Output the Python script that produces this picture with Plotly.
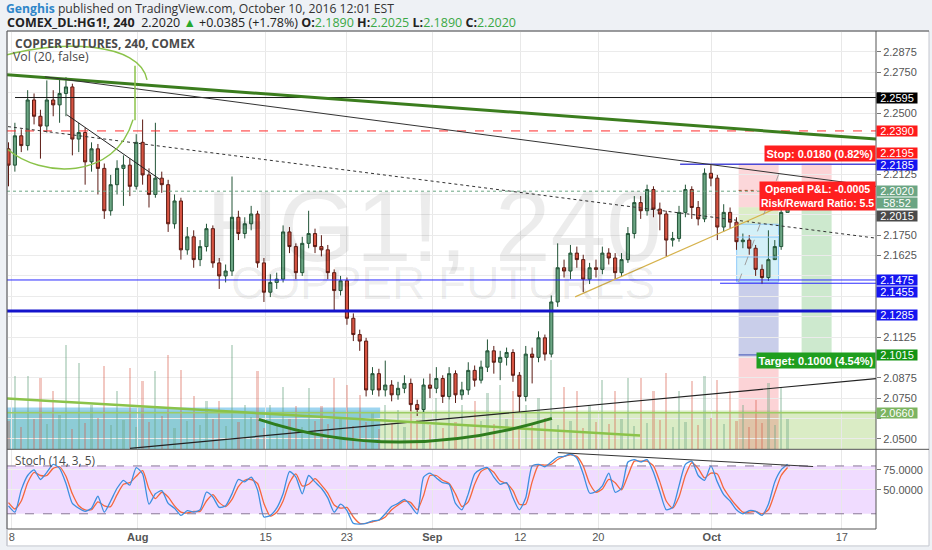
import plotly.graph_objects as go

# ---------------- data (240-min bars, 2 bars per day) ----------------
close = [2.218,2.236,2.230,2.258,2.248,2.242,2.258,2.255,2.262,2.266,
         2.234,2.238,2.220,2.228,2.216,2.190,2.206,2.216,2.218,2.205,
         2.232,2.212,2.200,2.210,2.206,2.182,2.196,2.166,2.174,2.160,
         2.168,2.179,2.158,2.150,2.153,2.186,2.176,2.182,2.188,2.158,
         2.140,2.146,2.148,2.177,2.168,2.152,2.170,2.176,2.168,2.166,
         2.152,2.141,2.147,2.124,2.114,2.110,2.080,2.090,2.080,2.083,
         2.077,2.081,2.084,2.071,2.068,2.083,2.081,2.087,2.076,2.090,
         2.077,2.080,2.092,2.086,2.094,2.104,2.097,2.100,2.103,2.089,
         2.076,2.102,2.100,2.112,2.102,2.134,2.155,2.153,2.164,2.160,
         2.148,2.155,2.154,2.164,2.161,2.152,2.160,2.176,2.195,2.190,
         2.203,2.191,2.188,2.172,2.173,2.189,2.203,2.192,2.185,2.213,
         2.210,2.180,2.189,2.183,2.171,2.172,2.167,2.154,2.149,2.160,
         2.168,2.189,2.202]
high = [2.232,2.244,2.240,2.264,2.262,2.252,2.270,2.264,2.271,2.272,
        2.268,2.244,2.241,2.232,2.231,2.219,2.212,2.221,2.224,2.222,
        2.237,2.246,2.216,2.244,2.214,2.209,2.200,2.198,2.180,2.178,
        2.172,2.182,2.181,2.161,2.157,2.211,2.190,2.186,2.193,2.190,
        2.161,2.151,2.152,2.181,2.180,2.170,2.174,2.190,2.179,2.175,
        2.169,2.154,2.150,2.149,2.127,2.117,2.112,2.094,2.093,2.098,
        2.086,2.085,2.089,2.087,2.074,2.087,2.090,2.094,2.089,2.094,
        2.092,2.085,2.097,2.095,2.098,2.111,2.107,2.104,2.106,2.105,
        2.091,2.107,2.106,2.116,2.114,2.138,2.170,2.160,2.169,2.168,
        2.163,2.158,2.160,2.168,2.167,2.164,2.164,2.180,2.199,2.199,
        2.206,2.205,2.195,2.190,2.177,2.193,2.206,2.205,2.196,2.216,
        2.218,2.212,2.194,2.192,2.186,2.176,2.175,2.169,2.157,2.178,
        2.172,2.192,2.2025]
low = [2.205,2.214,2.226,2.227,2.243,2.222,2.238,2.248,2.244,2.248,
       2.224,2.226,2.206,2.214,2.200,2.185,2.187,2.200,2.193,2.199,
       2.203,2.206,2.192,2.198,2.201,2.177,2.179,2.160,2.163,2.155,
       2.156,2.165,2.155,2.142,2.146,2.150,2.172,2.173,2.178,2.155,
       2.134,2.137,2.142,2.146,2.164,2.148,2.150,2.167,2.164,2.162,
       2.148,2.129,2.138,2.120,2.110,2.104,2.076,2.077,2.076,2.076,
       2.073,2.074,2.078,2.067,2.064,2.066,2.075,2.078,2.072,2.074,
       2.072,2.074,2.077,2.082,2.084,2.091,2.090,2.086,2.095,2.085,
       2.066,2.073,2.084,2.097,2.098,2.100,2.131,2.149,2.148,2.155,
       2.140,2.145,2.149,2.151,2.157,2.148,2.150,2.158,2.173,2.185,
       2.187,2.186,2.178,2.162,2.168,2.171,2.186,2.185,2.181,2.183,
       2.205,2.172,2.177,2.179,2.166,2.167,2.163,2.150,2.145,2.147,
       2.163,2.166,2.189]
first_open = 2.228
volume = [28,74,22,74,30,72,25,59,34,105,
          20,87,26,45,31,84,24,59,29,82,
          22,69,27,79,33,95,21,80,28,54,
          24,49,30,49,23,105,27,45,32,79,
          21,45,26,63,30,43,22,62,28,43,
          25,72,31,65,23,55,27,37,20,45,
          26,39,22,45,29,49,24,52,21,50,
          27,45,23,49,28,57,25,65,30,59,
          22,45,26,52,31,90,24,63,28,59,
          21,43,27,70,25,59,30,72,23,72,
          26,59,29,77,22,59,27,69,24,74,
          31,70,25,59,28,45,22,50,26,67,
          24,63,30]
stoch_k = [30,22,50,68,75,63,72,82,77,58,
           33,27,23,27,42,22,36,52,62,56,
           78,70,32,45,49,33,27,18,24,22,
           25,47,41,28,30,45,63,60,66,50,
           16,18,27,45,73,66,45,68,60,52,
           40,22,32,24,8,7,8,11,12,20,
           29,33,38,30,20,66,71,65,59,57,
           33,25,45,70,76,78,66,57,59,40,
           25,40,80,82,79,85,91,92,95,90,
           70,46,48,55,71,47,52,85,88,85,
           88,72,48,25,28,55,82,86,68,62,
           80,60,44,36,25,20,24,23,18,32,
           60,75,82]
stoch_d = [34,26,36,59,72,68,68,77,79,67,
           45,30,25,25,35,30,29,44,57,59,
           67,74,51,39,47,41,30,22,21,23,
           23,36,44,34,29,38,54,62,63,58,
           33,17,22,36,59,70,55,57,64,56,
           46,31,27,28,16,8,8,10,12,16,
           25,31,36,34,25,43,68,68,62,58,
           45,29,35,57,73,77,72,61,58,49,
           32,32,60,81,81,82,88,92,94,92,
           80,58,47,51,63,59,50,68,86,86,
           86,80,60,36,27,41,68,84,77,65,
           71,70,52,40,30,22,22,23,20,25,
           46,68,78]

bar_x = list(range(len(close)))
open_ = [first_open] + close[:-1]

x_tick_vals = [0.5, 20.23, 40.28, 52.97, 66.37, 80.15, 92.37, 110.13, 130.5]
x_tick_text = ["8", "<b>Aug</b>", "15", "23", "<b>Sep</b>", "12", "20", "<b>Oct</b>", "17"]
price_tick_vals = [2.0500, 2.0625, 2.0750, 2.0875, 2.1000, 2.1125, 2.1250, 2.1375, 2.1500, 2.1625,
                   2.1750, 2.1875, 2.2000, 2.2125, 2.2250, 2.2375, 2.2500, 2.2625, 2.2750, 2.2875]
# ticks whose text is covered by the coloured price labels on the right axis
price_tick_text = ["2.0500", "", "2.0750", "2.0875", "", "2.1125", "", "", "", "2.1625",
                   "2.1750", "", "", "2.2125", "", "", "2.2500", "", "2.2750", "2.2875"]
stoch_tick_vals = [50, 75]
stoch_tick_text = ["50.0000", "75.0000"]

X_MIN, X_MAX = -0.236, 135.85
Y_MIN, Y_MAX = 2.04355, 2.30034

# horizontal levels: price, x start, x end, colour, width, dash
levels = [
    (2.2595, 1.02, X_MAX, "#1a1a1a", 1, "solid"),
    (2.2390, X_MIN, X_MAX, "#ff2a2a", 1, "dash"),
    (2.2185, 105.17, X_MAX, "#4b4bd8", 1.5, "solid"),
    (2.2020, X_MIN, X_MAX, "#6ba583", 1, "dot"),
    (2.1475, X_MIN, X_MAX, "#2a2aff", 1, "solid"),
    (2.1455, 111.43, X_MAX, "#2a2aff", 1, "solid"),
    (2.1285, X_MIN, X_MAX, "#1414cc", 3, "solid"),
    (2.0660, X_MIN, X_MAX, "#9ccc65", 1.5, "solid"),
    (2.1015, 114.34, 120.6, "#3f51b5", 1, "solid"),
    (2.1738, 114.03, 120.6, "#90caf9", 1, "solid"),
    (2.1616, 114.03, 120.6, "#90caf9", 1, "solid"),
    (2.2025, 114.34, 117.2, "#a0522d", 1, "dot"),
]
# trend lines: x0, p0, x1, p1, colour, width, dash
trendlines = [
    (X_MIN, 2.27344, X_MAX, 2.23400, "#3b7d1e", 3, "solid"),
    (5.715, 2.27222, X_MAX, 2.20496, "#333333", 1, "solid"),
    (-0.08, 2.24165, X_MAX, 2.17317, "#333333", 1, "dot"),
    (9.114, 2.24898, 23.726, 2.20924, "#222222", 1, "solid"),
    (19.03, 2.04417, X_MAX, 2.08696, "#222222", 1.2, "solid"),
    (X_MIN, 2.07474, 98.90, 2.05211, "#8bc34a", 2.5, "solid"),
    (88.73, 2.13710, 121.61, 2.19396, "#d6b24c", 1.2, "solid"),
    (114.34, 2.14627, 120.6, 2.21230, "#9e9e9e", 1, "dash"),
    (19.81, 2.24550, 19.81, 2.27900, "#8bc34a", 1.5, "solid"),
]
curves = [
    ("M -0.236,2.28567 C 8.06,2.29484 20.59,2.29361 21.69,2.27038", "#8bc34a", 1.5),
    ("M -0.08,2.22758 C 4.93,2.21046 16.68,2.20802 19.5,2.24593", "#8bc34a", 1.5),
    ("M 39.21,2.06190 Q 60.82,2.03377 85.10,2.06251", "#2e7d1e", 3),
]
# zones: x0, x1, p0, p1, fill, line
zones = [
    (X_MIN, X_MAX, Y_MIN, 2.06732, "rgba(139,195,74,0.32)", None),
    (X_MIN, 58.2, Y_MIN, 2.06916, "rgba(79,178,228,0.55)", None),
    (114.34, 120.6, 2.19212, 2.21902, "rgba(242,54,69,0.20)", None),
    (114.34, 120.6, 2.18173, 2.19212, "rgba(139,195,74,0.30)", None),
    (114.03, 120.6, 2.14627, 2.18173, "rgba(128,212,234,0.35)", "#90caf9"),
    (114.34, 120.6, 2.10041, 2.14627, "rgba(92,107,192,0.33)", None),
    (114.34, 120.6, Y_MIN, 2.10041, "rgba(242,54,69,0.22)", None),
    (124.2, 128.9, 2.20190, 2.21902, "rgba(242,54,69,0.22)", None),
    (124.2, 128.9, 2.10163, 2.20190, "rgba(76,175,80,0.28)", None),
]
# right-axis price labels: price, text, background, vertical shift (px)
axis_labels = [
    (2.2595, "2.2595", "#000000", 0),
    (2.2390, "2.2390", "#ff1a1a", 0),
    (2.2195, "2.2195", "#ff1a1a", 10),
    (2.2185, "2.2185", "#1515f0", -1),
    (2.2020, "2.2020", "#6ba583", 0),
    (2.2020, "58:52", "#6ba583", -12),
    (2.2015, "2.2015", "#4a4a4a", -24),
    (2.1475, "2.1475", "#1515f0", 0),
    (2.1455, "2.1455", "#1515f0", -9),
    (2.1285, "2.1285", "#1515f0", -4),
    (2.1015, "2.1015", "#149414", 0),
    (2.0660, "2.0660", "#7cb461", 0),
]

# ---------------- figure ----------------
W, H = 932, 550
ML, MR, MT, MB = 7, 56, 31, 19


def ppx(x):
    return (x - ML) / (W - ML - MR)


def ppy(y):
    return (H - MB - y) / (H - MT - MB)


fig = go.Figure()
vol_colors = ["rgba(107,165,131,0.38)" if c >= o else "rgba(215,84,66,0.32)" for o, c in zip(open_, close)]
fig.add_trace(go.Bar(x=bar_x, y=volume, marker=dict(color=vol_colors, line=dict(width=0)),
                     width=0.35, xaxis="x", yaxis="y"))
fig.add_trace(go.Candlestick(
    x=bar_x, open=open_, high=high, low=low, close=close, xaxis="x", yaxis="y3",
    increasing=dict(line=dict(color="#225437", width=1), fillcolor="#6ba583"),
    decreasing=dict(line=dict(color="#5b1a13", width=1), fillcolor="#d75442"),
    whiskerwidth=0))
fig.add_trace(go.Scatter(x=bar_x, y=stoch_d, mode="lines", xaxis="x2", yaxis="y2",
                         line=dict(color="#f5673d", width=1.3, shape="spline", smoothing=0.6)))
fig.add_trace(go.Scatter(x=bar_x, y=stoch_k, mode="lines", xaxis="x2", yaxis="y2",
                         line=dict(color="#3d8fe0", width=1.3, shape="spline", smoothing=0.6)))

shapes = []
# frame
shapes.append(dict(type="rect", xref="paper", yref="paper", x0=ppx(7), x1=ppx(929), y0=ppy(31), y1=ppy(548),
                   fillcolor="white", line=dict(color="#c4c7cf", width=1), layer="below"))
for x0, x1, p0, p1, fill, ln in zones:
    shapes.append(dict(type="rect", xref="x", yref="y3", x0=x0, x1=x1, y0=p0, y1=p1, fillcolor=fill,
                       line=dict(color=ln, width=1) if ln else dict(width=0), layer="below"))
for p, x0, x1, col, wd, dash in levels:
    shapes.append(dict(type="line", xref="x", yref="y3", x0=x0, x1=x1, y0=p, y1=p,
                       line=dict(color=col, width=wd, dash=dash)))
for x0, p0, x1, p1, col, wd, dash in trendlines:
    shapes.append(dict(type="line", xref="x", yref="y3", x0=x0, x1=x1, y0=p0, y1=p1,
                       line=dict(color=col, width=wd, dash=dash)))
for path, col, wd in curves:
    shapes.append(dict(type="path", xref="x", yref="y3", path=path, line=dict(color=col, width=wd)))
# stochastic band and bounds
shapes.append(dict(type="rect", xref="x2", yref="y2", x0=X_MIN, x1=X_MAX, y0=20, y1=80,
                   fillcolor="rgba(153,21,255,0.15)", line=dict(width=0), layer="below"))
for lv in (20, 80):
    shapes.append(dict(type="line", xref="x2", yref="y2", x0=X_MIN, x1=X_MAX, y0=lv, y1=lv,
                       line=dict(color="#8a7898", width=1, dash="dash")))
shapes.append(dict(type="line", xref="x2", yref="y2", x0=86.03, x1=126.0, y0=96.75, y1=79.25,
                   line=dict(color="#333333", width=1)))
# pane borders
for (ax0, ay0, ax1, ay1, col) in [(7, 31, 929, 31, "#555"), (7, 31, 7, 531, "#555"),
                                  (7, 451, 929, 451, "#555"), (7, 531, 876, 531, "#555"),
                                  (876, 31, 876, 531, "#555"), (7, 531, 7, 548, "#c4c7cf")]:
    shapes.append(dict(type="line", xref="paper", yref="paper", x0=ppx(ax0), x1=ppx(ax1),
                       y0=ppy(ay0), y1=ppy(ay1), line=dict(color=col, width=1)))

ann = []
FONT = "Open Sans"
AX_FONT = "Liberation Sans"
line1 = ("<b><span style='color:#2f86c9'>Genghis</span></b> published on TradingView.com, "
         "October 10, 2016 12:01 EST")
g = "#3aa845"
line2 = ("<b>COMEX_DL:HG1!, 240</b>  2.2020 <span style='color:#26a92e'>▲</span> +0.0385 (+1.78%) "
         f"<b>O:</b><span style='color:{g}'>2.1890</span> <b>H:</b><span style='color:{g}'>2.2025</span> "
         f"<b>L:</b><span style='color:{g}'>2.1890</span> <b>C:</b><span style='color:{g}'>2.2020</span>")
ann.append(dict(text=line1, xref="paper", yref="paper", x=ppx(5), y=ppy(8), xanchor="left", yanchor="middle",
                showarrow=False, borderpad=0, font=dict(family=FONT, size=12.2, color="#333333")))
ann.append(dict(text=line2, xref="paper", yref="paper", x=ppx(6), y=ppy(22), xanchor="left", yanchor="middle",
                showarrow=False, borderpad=0, font=dict(family=FONT, size=12.5, color="#222222")))
# watermark
ann.append(dict(text="HG1!, 240", xref="paper", yref="paper", x=ppx(434), y=ppy(227), xanchor="center",
                yanchor="middle", showarrow=False, borderpad=0,
                font=dict(family="Liberation Sans", size=100, color="rgba(0,0,0,0.075)")))
ann.append(dict(text="COPPER FUTURES", xref="paper", yref="paper", x=ppx(443), y=ppy(284), xanchor="center",
                yanchor="middle", showarrow=False, borderpad=0,
                font=dict(family="Liberation Sans", size=46, color="rgba(0,0,0,0.075)")))
# pane titles
ann.append(dict(text="<b>COPPER FUTURES, 240, COMEX</b>", xref="paper", yref="paper", x=ppx(14), y=ppy(43.5),
                xanchor="left", yanchor="middle", showarrow=False, borderpad=0,
                font=dict(family=FONT, size=12, color="#4a4a4a")))
ann.append(dict(text="Vol (20, false)", xref="paper", yref="paper", x=ppx(12), y=ppy(57),
                xanchor="left", yanchor="middle", showarrow=False, borderpad=0,
                font=dict(family=FONT, size=12.3, color="#4a4a4a")))
ann.append(dict(text="Stoch (14, 3, 5)", xref="paper", yref="paper", x=ppx(14), y=ppy(462),
                xanchor="left", yanchor="middle", showarrow=False, borderpad=0,
                font=dict(family=FONT, size=11.8, color="#4a4a4a")))
# position tool labels
tool_font = dict(family="Liberation Sans", size=11, color="white")
ann.append(dict(text="<b>Stop: 0.0180 (0.82%)</b>", xref="paper", yref="y3", x=1, y=2.22514,
                xanchor="right", yanchor="middle", showarrow=False, bgcolor="#ff1f1f", borderpad=1.5,
                font=tool_font))
ann.append(dict(text="<b>Opened P&L: -0.0005<br>Risk/Reward Ratio: 5.5</b>", xref="paper", yref="y3", x=1,
                y=2.19885, xanchor="right", yanchor="middle", showarrow=False, bgcolor="#ff1f1f",
                borderpad=1, font=dict(family="Liberation Sans", size=10.5, color="white")))
ann.append(dict(text="<b>Target: 0.1000 (4.54%)</b>", xref="paper", yref="y3", x=1, y=2.09797,
                xanchor="right", yanchor="middle", showarrow=False, bgcolor="#1f9e1f", borderpad=1.5,
                font=tool_font))
for p, txt, bg, sh in axis_labels:
    ann.append(dict(text=txt, xref="paper", yref="y3", x=1, y=p, yshift=sh, xanchor="left",
                    yanchor="middle", showarrow=False, bgcolor=bg, width=40, height=10, borderpad=0,
                    font=dict(family=AX_FONT, size=11, color="white")))

tick_font = dict(family=AX_FONT, size=11, color="#555555")
fig.update_layout(
    width=W, height=H, margin=dict(l=ML, r=MR, t=MT, b=MB),
    paper_bgcolor="#eef1f5", plot_bgcolor="white", showlegend=False, hovermode=False, bargap=0,
    xaxis=dict(domain=[0, 1], anchor="y", range=[X_MIN, X_MAX], tickvals=x_tick_vals, showticklabels=False,
               ticks="", showgrid=True, gridcolor="#e8e8e8", zeroline=False,
               rangeslider=dict(visible=False)),
    xaxis2=dict(domain=[0, 1], anchor="y2", range=[X_MIN, X_MAX], matches="x", tickvals=x_tick_vals,
                ticktext=x_tick_text, ticks="", showgrid=True, gridcolor="#e8e8e8", zeroline=False,
                tickfont=tick_font),
    yaxis=dict(domain=[0.16, 1], anchor="x", range=[0, 420], visible=False),
    yaxis3=dict(overlaying="y", anchor="x", side="right", range=[Y_MIN, Y_MAX], tickvals=price_tick_vals,
                ticktext=price_tick_text, ticks="outside", ticklen=4, tickcolor="#777777", showgrid=True,
                gridcolor="#ebebeb", zeroline=False, tickfont=tick_font),
    yaxis2=dict(domain=[0, 0.158], anchor="x2", side="right", range=[0.9, 99.6], tickvals=stoch_tick_vals,
                ticktext=stoch_tick_text, ticks="outside", ticklen=4, tickcolor="#777777", showgrid=True,
                gridcolor="#f0f0f0", zeroline=False, tickfont=tick_font),
    shapes=shapes, annotations=ann,
)

fig.write_html("out.html", config={"displayModeBar": False},
               post_script="document.body.style.margin='0px';document.body.style.overflow='hidden';")
